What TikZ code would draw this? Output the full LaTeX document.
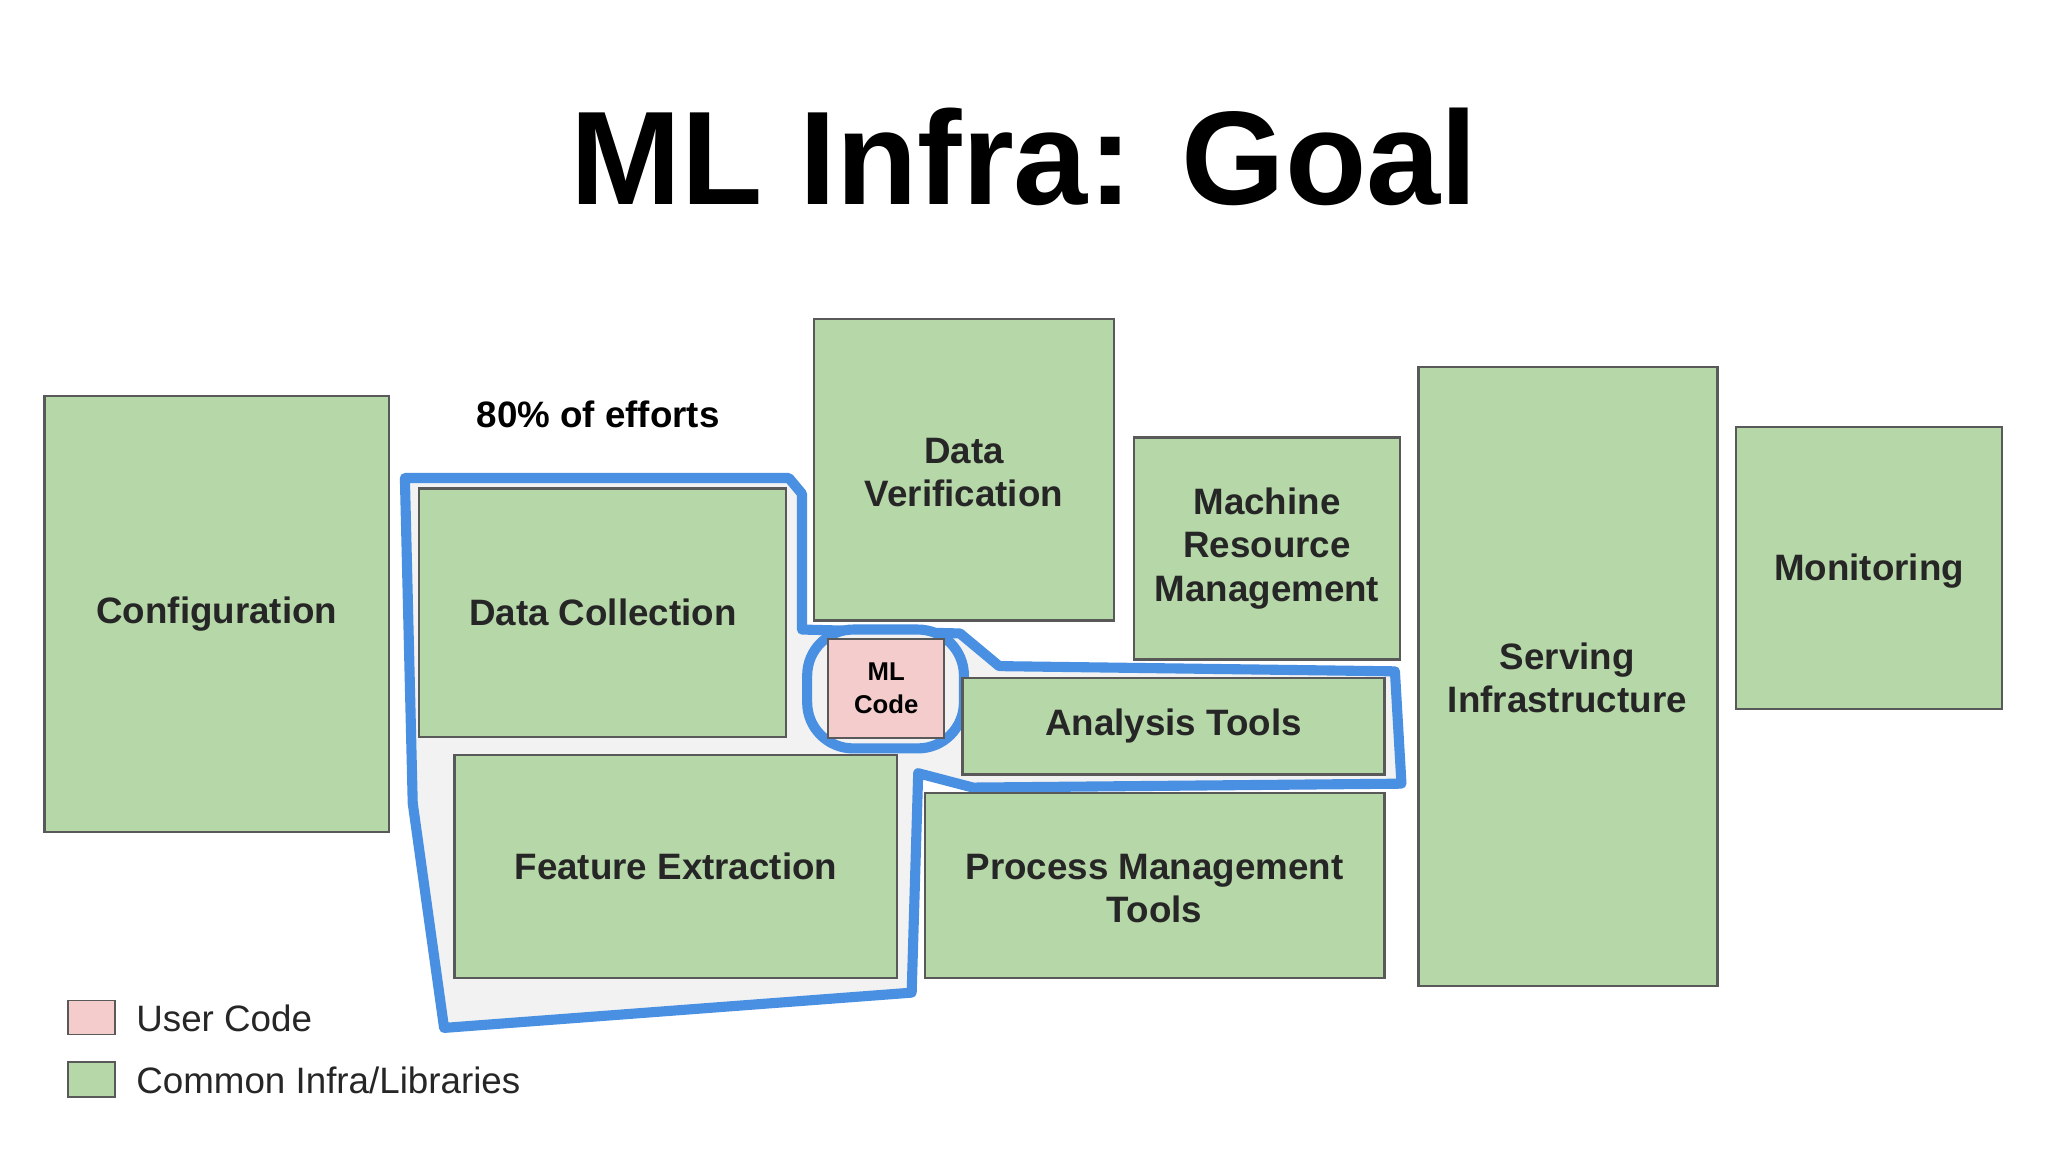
\documentclass[tikz,border=0pt]{standalone}
\usepackage{fontspec}
\setmainfont{Liberation Sans}
\begin{document}
\begin{tikzpicture}[x=0.01cm,y=-0.01cm,
  gbox/.style={draw=black!65,line width=0.5pt,fill=grn},
  lbl/.style={font=\bfseries\fontsize{8}{9.4}\selectfont,align=center,text=black!85}]
\definecolor{grn}{HTML}{B6D7A8}
\definecolor{pnk}{HTML}{F4CCCC}
\definecolor{blu}{HTML}{4A90E2}
\useasboundingbox (0,0) rectangle (1568,882);
\node[font=\bfseries\fontsize{29}{32}\selectfont] (title) at (784,120) {ML Infra: Goal};
% region
\draw[blu,line width=2.2pt,fill=black!5,line join=round] (310,366)--(604,366)--(614,378)--(614,482)--(735,485)--(765,510)--(1068,514)--(1073,600)--(745,603)--(703,592)--(698,760)--(340,787)--(316,615)--cycle;
\draw[blu,line width=2.2pt,fill=black!5,rounded corners=10pt] (618,482) rectangle (738,573);
\node[font=\bfseries\fontsize{8}{9.4}\selectfont] (eff) at (458,317) {80\% of efforts};
\draw[gbox] (34,303) rectangle (298,637) node[lbl,midway] (conf) {Configuration};
\draw[gbox] (321,374) rectangle (602,564) node[lbl,midway] (dc) {Data Collection};
\draw[gbox] (348,578) rectangle (687,749) node[lbl,midway] (fe) {Feature Extraction};
\draw[gbox] (623,244) rectangle (853,475);
\node[lbl] (dv) at (738,362) {Data\\Verification};
\draw[draw=black!65,line width=0.5pt,fill=pnk] (634,489) rectangle (723,565) node[midway,font=\bfseries\fontsize{5.6}{7}\selectfont,align=center] (ml) {ML\\Code};
\draw[gbox] (737,519) rectangle (1060,593) node[lbl,midway] (at) {Analysis Tools};
\draw[gbox] (708,607) rectangle (1060,749);
\node[lbl] (pm) at (884,680) {Process Management\\Tools};
\draw[gbox] (868,335) rectangle (1072,505) node[lbl,midway] (mr) {Machine\\Resource\\Management};
\draw[gbox] (1086,281) rectangle (1315,755);
\node[lbl] (si) at (1200,519) {Serving\\Infrastructure};
\draw[gbox] (1329,327) rectangle (1533,543);
\node[lbl] (mon) at (1431,437) {Monitoring};
\draw[draw=black!65,fill=pnk] (52,766) rectangle (88,792);
\node[anchor=west,font=\fontsize{8}{9.4}\selectfont,text=black!85] (uc) at (92,780) {User Code};
\draw[gbox] (52,813) rectangle (88,840);
\node[anchor=west,font=\fontsize{8}{9.4}\selectfont,text=black!85] (ci) at (92,827) {Common Infra/Libraries};
\end{tikzpicture}
\end{document}
